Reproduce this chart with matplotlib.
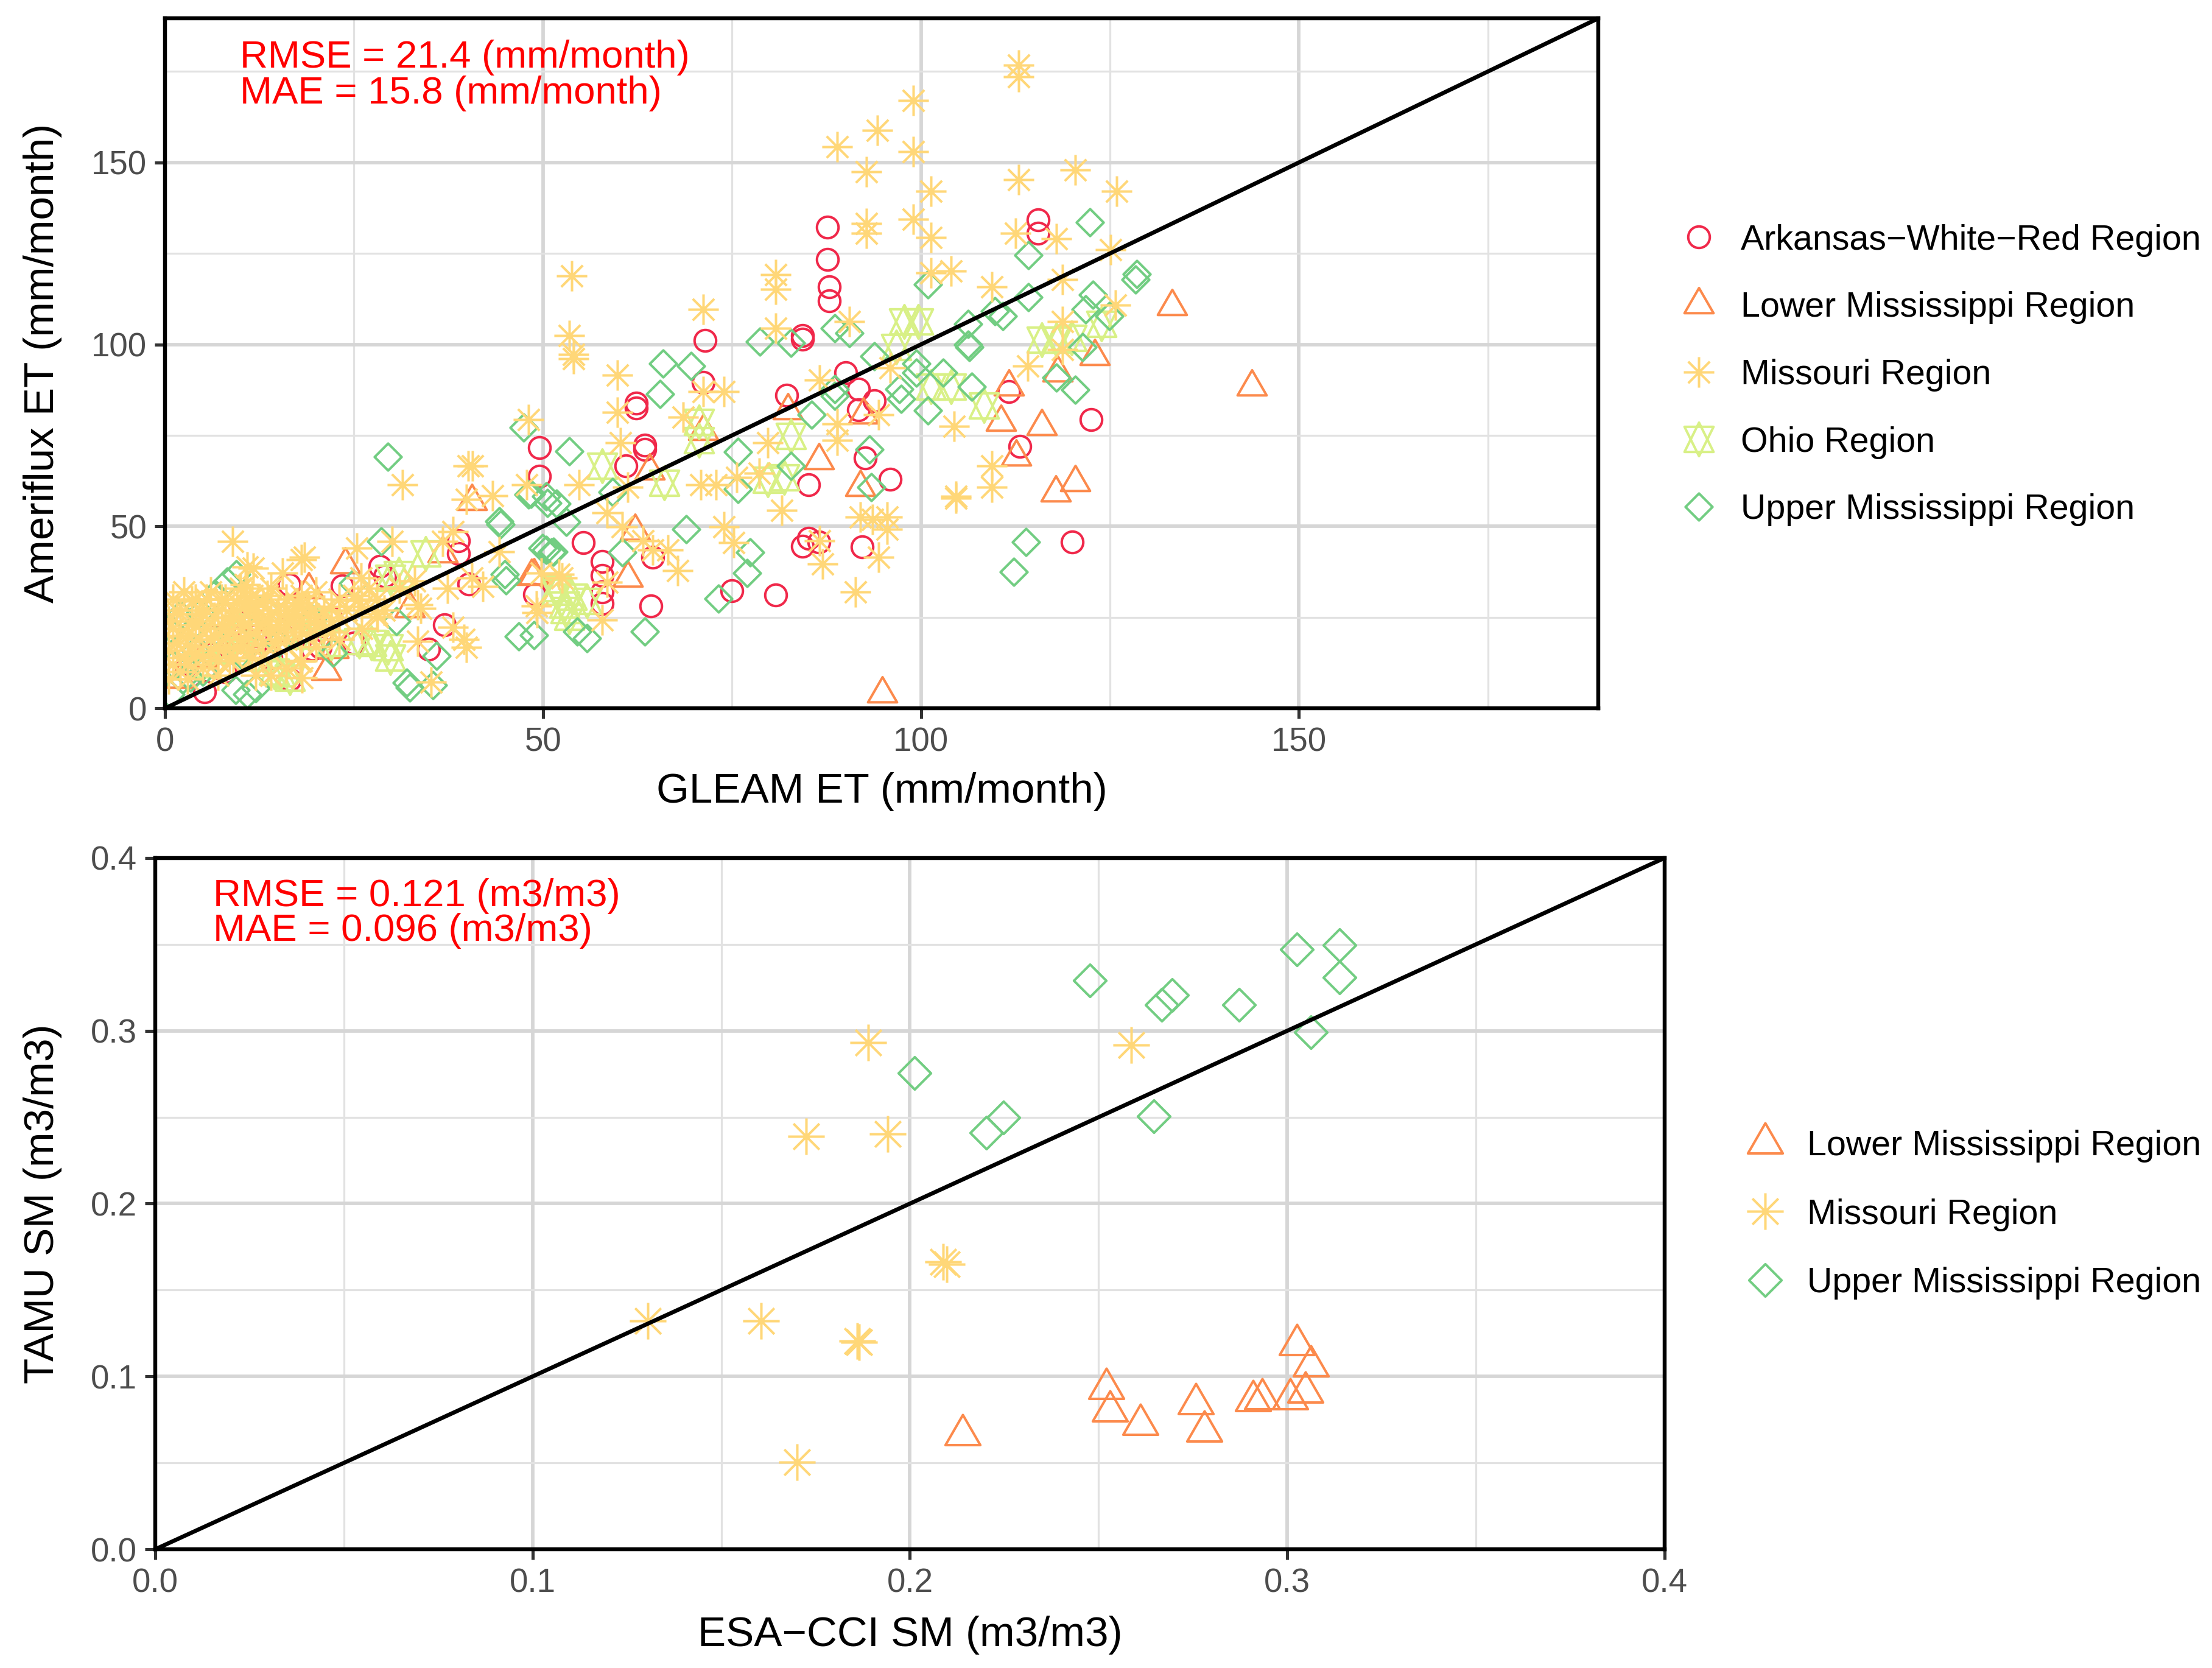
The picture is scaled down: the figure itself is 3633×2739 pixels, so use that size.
import matplotlib.pyplot as plt
from matplotlib.path import Path
from matplotlib.lines import Line2D
from matplotlib.ticker import MultipleLocator

plt.rcParams['font.family'] = ['Liberation Sans', 'DejaVu Sans']

# ---- top panel: GLEAM ET (x) vs Ameriflux ET (y), mm/month ----
ark_et = [
    (87.6, 132.3), (87.6, 123.3), (87.9, 115.9), (87.9, 112.0), (115.5, 134.2), (115.5, 130.6),
    (84.3, 102.4), (84.3, 101.4), (82.2, 86.0), (90.0, 92.2), (91.7, 87.7), (91.7, 82.0),
    (93.8, 84.5), (111.6, 87.1), (122.5, 79.4), (113.1, 72.0), (92.6, 68.8), (85.1, 61.5),
    (95.9, 63.0), (85.1, 46.7), (84.3, 44.6), (86.5, 45.7), (92.2, 44.4), (120.0, 45.7),
    (80.8, 31.1), (75.0, 32.3), (71.4, 101.1), (71.2, 89.6), (62.3, 83.9), (62.3, 82.6),
    (63.5, 72.3), (63.5, 71.1), (61.0, 66.6), (49.5, 71.7), (49.5, 63.8), (55.3, 45.5),
    (57.8, 40.3), (57.8, 36.5), (57.8, 32.0), (57.8, 28.8), (64.5, 41.6), (64.3, 28.2),
    (16.4, 34.0), (23.4, 33.7), (28.4, 39.1), (29.1, 36.3), (38.8, 46.1), (38.8, 42.5),
    (40.2, 34.1), (48.9, 31.3), (37.0, 22.9), (34.9, 16.2), (20.5, 16.8), (5.2, 4.5),
    (16.5, 7.9), (19.5, 16.3), (3, 12), (6, 15), (9, 18), (12, 20), (14, 14), (8, 10),
    (22, 25), (11, 24), (25, 18),
]
low_et = [
    (133.2, 110.5), (143.8, 88.3), (123.0, 96.7), (118.1, 92.2), (111.6, 88.3), (110.6, 78.7),
    (116.0, 77.5), (112.6, 69.1), (120.4, 62.1), (117.8, 59.2), (86.5, 68.1), (92.0, 60.8),
    (92.4, 80.7), (82.4, 81.9), (94.9, 4.1), (64.1, 65.3), (71.2, 76.2), (61.2, 35.9),
    (62.2, 48.7), (48.8, 36.5), (23.8, 39.5), (19.0, 32.6), (40.6, 57.0), (48.5, 36.3),
    (36.7, 42.5), (32.4, 27.4), (21.3, 10.3), (22.3, 16.2), (15.6, 21.0), (5, 14), (10, 20),
    (13, 18), (8, 25), (2, 8),
]
mo_et = [
    (112.9, 176.7), (112.9, 173.5), (99.0, 167.1), (94.2, 158.8), (88.9, 154.3), (99.0, 153.0),
    (92.8, 147.5), (112.9, 145.3), (120.4, 147.9), (125.9, 142.1), (101.3, 142.1), (92.8, 133.2),
    (92.8, 130.6), (99.0, 134.4), (101.3, 129.3), (112.5, 130.6), (117.9, 129.1), (125.1, 126.1),
    (80.8, 119.1), (80.8, 115.2), (101.3, 119.7), (104.0, 120.1), (109.4, 115.9), (118.7, 117.8),
    (80.8, 104.4), (90.5, 106.3), (125.7, 110.8), (118.7, 106.3), (118.7, 98.6), (95.9, 93.5),
    (86.6, 90.3), (114.1, 94.1), (88.9, 78.1), (88.9, 73.6), (79.7, 73.0), (94.4, 80.7),
    (104.4, 77.5), (109.4, 66.6), (109.4, 60.8), (104.6, 58.3), (104.6, 57.8), (81.6, 54.4),
    (92.0, 52.5), (95.5, 52.5), (93.6, 51.9), (95.5, 49.3), (86.6, 46.1), (87.0, 39.7),
    (94.4, 41.6), (91.3, 32.0),
    (53.8, 118.8), (71.2, 109.7), (53.5, 102.4), (54.0, 97.3), (54.0, 96.0), (59.8, 91.5),
    (48.1, 79.4), (59.8, 81.3), (71.2, 87.1), (73.9, 87.1), (68.5, 80.0), (60.2, 73.0),
    (40.1, 66.6), (40.7, 66.6), (31.4, 61.5), (47.8, 61.5), (54.8, 61.5), (61.2, 60.8),
    (70.9, 61.5), (72.9, 61.5), (75.6, 63.4), (78.6, 64.7), (58.5, 53.8), (60.5, 49.9),
    (73.9, 49.9), (75.2, 45.5), (63.2, 46.1), (64.5, 43.5), (66.5, 43.5), (67.8, 37.8),
    (49.8, 37.1), (52.5, 35.9), (58.5, 34.6), (57.8, 24.3), (49.1, 28.2),
    (8.9, 45.8), (3.5, 29.5), (10.9, 38.8), (11.7, 38.5), (15.5, 37.1), (18.0, 40.8),
    (18.4, 41.6), (25.4, 44.1), (30.0, 45.8), (36.7, 45.8), (38.1, 48.6), (39.9, 57.5),
    (43.3, 58.4), (44.2, 43.0), (40.6, 35.8), (37.4, 33.0), (33.4, 28.5), (38.1, 22.3),
    (39.5, 19.0), (39.9, 16.8), (33.4, 18.4), (35.2, 7.3), (25.9, 35.8), (25.5, 29.6),
    (28.1, 25.1), (16.9, 25.1), (18.1, 8.4), (17.9, 12.9), (11.2, 29.6), (10.6, 34.0),
    (17.6, 28.1), (49.2, 26.3), (52.1, 36.9), (42.0, 33.5), (33.8, 27.4),
    (0.5, 8), (0.5, 16), (0.5, 24), (1, 12), (1, 22), (1, 30), (1.5, 18), (1.5, 27), (2, 10),
    (2, 20), (2, 26), (2.5, 14), (2.5, 32), (3, 8), (3, 12), (3, 20), (3.5, 17), (3.5, 24),
    (4, 15), (4, 23), (4, 30), (4.5, 19), (4.5, 27), (5, 11), (5, 14), (5, 26), (5.5, 22),
    (5.5, 30), (6, 16), (6, 19), (6, 32), (6.5, 20), (6.5, 25), (7, 9), (7, 13), (7, 17),
    (7, 27), (7.5, 23), (7.5, 30), (8, 17), (8, 22), (8, 30), (8.5, 13), (8.5, 21), (9, 14),
    (9, 25), (9, 27), (9.5, 17), (9.5, 29), (10, 19), (10, 24), (10, 33), (10.5, 23),
    (10.5, 29), (11, 16), (11, 20), (11, 27), (11.5, 14), (11.5, 31), (12, 9), (12, 21),
    (12, 25), (12, 28), (12.5, 23), (13, 14), (13, 18), (13, 29), (13.5, 24), (13.5, 31),
    (14, 9), (14, 22), (14, 26), (14, 33), (14.5, 18), (15, 19), (15, 23), (15, 27), (16, 11),
    (16, 19), (16, 23), (16, 27), (16, 30), (17, 21), (17, 24), (17, 26), (17.5, 29), (18, 13),
    (18, 21), (18, 24), (18, 31), (19, 20), (19, 26), (19, 28), (20, 17), (20, 23), (20, 25),
    (20, 32), (21, 22), (21, 27), (22, 21), (22, 24), (22, 28), (23, 19), (23, 25), (23, 30),
    (24, 27), (25, 31), (26, 22), (26, 28), (27, 33), (28, 26), (28, 30), (29, 27), (31, 33),
    (33, 35),
]
oh_et = [
    (97.8, 106.3), (99.6, 106.3), (96.7, 99.2), (116.0, 101.2), (117.9, 101.2), (119.9, 101.8),
    (123.9, 105.6), (108.3, 83.2), (101.3, 88.3), (104.0, 88.3), (82.8, 74.9), (79.7, 62.7),
    (70.6, 78.7), (81.9, 63.4), (57.8, 66.6), (70.6, 73.6), (51.8, 32.0), (53.8, 30.7),
    (55.8, 29.4), (53.0, 26.9), (66.0, 62.0), (34.5, 42.5), (30.9, 36.9), (29.8, 35.8),
    (29.5, 16.8), (29.8, 14.0), (25.7, 18.5), (27.3, 18.0), (16.5, 8.4), (15.2, 9.6),
    (14.4, 10.1), (52.8, 28.5), (53.5, 25.1), (51.7, 33.0), (5, 12), (8, 16), (12, 14),
    (18, 20), (22, 18), (10, 22), (20, 24),
]
up_et = [
    (122.3, 133.5), (114.2, 124.5), (128.5, 119.3), (128.4, 117.8), (100.9, 116.5), (114.2, 112.9),
    (122.7, 113.7), (121.8, 109.7), (124.9, 107.8), (109.8, 109.1), (110.8, 107.8), (78.7, 100.8),
    (82.8, 100.5), (88.6, 104.4), (90.5, 103.1), (106.2, 105.6), (106.2, 99.9), (106.4, 99.2),
    (93.8, 96.7), (88.6, 87.7), (88.6, 85.8), (85.5, 80.7), (97.1, 87.7), (97.4, 85.1),
    (99.4, 94.8), (99.4, 92.2), (102.9, 92.2), (100.9, 81.9), (106.7, 88.3), (117.9, 90.9),
    (120.4, 87.5), (121.4, 99.2), (75.8, 70.4), (82.8, 66.6), (93.2, 71.1), (93.4, 60.8),
    (75.8, 60.2), (113.9, 45.7), (112.3, 37.5), (77.4, 42.9), (77.0, 37.1),
    (29.5, 69.1), (47.4, 77.1), (53.5, 70.7), (65.9, 94.7), (69.6, 94.1), (65.5, 86.4),
    (48.4, 58.9), (50.4, 58.3), (44.4, 50.6), (51.8, 56.3), (53.1, 51.2), (50.4, 43.5),
    (51.1, 42.9), (59.2, 59.5), (68.9, 49.3), (60.5, 42.9), (45.1, 35.2), (46.8, 19.8),
    (54.5, 21.1), (55.8, 19.2), (63.5, 21.1), (73.2, 30.1), (32.0, 7.0), (32.4, 5.8),
    (35.4, 6.4), (28.6, 45.8), (44.2, 51.4), (48.1, 58.7), (50.6, 56.4), (49.9, 44.1),
    (51.4, 43.0), (44.9, 36.9), (48.8, 20.1), (35.9, 14.5), (19.5, 24.7), (22.2, 15.2),
    (30.6, 24.0), (6.6, 31.5), (8.2, 34.8), (9.4, 36.9), (13.0, 27.5), (2.3, 7.9), (3.4, 8.4),
    (9.3, 5.1), (10.9, 3.9), (12.0, 5.6), (0.7, 3.9), (0.7, 21.9), (2.0, 25.8), (24.9, 34.3),
    (4.7, 26.3), (4, 16), (6, 20), (1, 12), (5, 10), (10, 15), (12, 22), (15, 18),
]

# ---- bottom panel: ESA-CCI SM (x) vs TAMU SM (y), m3/m3 ----
low_sm = [
    (0.3025, 0.1185), (0.3063, 0.106), (0.252, 0.0931), (0.253, 0.080), (0.261, 0.0724),
    (0.2757, 0.0843), (0.278, 0.0684), (0.291, 0.0861), (0.2933, 0.087), (0.3008, 0.087),
    (0.3048, 0.091), (0.214, 0.0663),
]
mo_sm = [
    (0.1889, 0.2931), (0.2587, 0.2916), (0.1725, 0.2388), (0.1941, 0.2403), (0.2088, 0.1664),
    (0.2097, 0.1649), (0.1306, 0.1322), (0.1606, 0.1322), (0.186, 0.1206), (0.1866, 0.120),
    (0.1701, 0.0504),
]
up_sm = [
    (0.2477, 0.3292), (0.3025, 0.3472), (0.3138, 0.3496), (0.3138, 0.3307), (0.2668, 0.3151),
    (0.2694, 0.3206), (0.2872, 0.3151), (0.3063, 0.2992), (0.2013, 0.2754), (0.2203, 0.2412),
    (0.2247, 0.2498), (0.2647, 0.2504),
]

regions = ['Arkansas\u2212White\u2212Red Region', 'Lower Mississippi Region',
           'Missouri Region', 'Ohio Region', 'Upper Mississippi Region']
colors = ['#F0284A', '#FC8A4C', '#FFD778', '#D8F086', '#72CD82']

# ggplot-like open shapes (units of the symbol radius)
M, L, C = Path.MOVETO, Path.LINETO, Path.CLOSEPOLY
tri = Path([(0, 1.555), (1.347, -0.778), (-1.347, -0.778), (0, 1.555)], [M, L, L, C])
dia = Path([(0, 1.253), (1.253, 0), (0, -1.253), (-1.253, 0), (0, 1.253)], [M, L, L, L, C])
ast = Path([(-1, -1), (1, 1), (-1, 1), (1, -1), (-1.414, 0), (1.414, 0), (0, -1.414), (0, 1.414)],
           [M, L, M, L, M, L, M, L])
hexa = Path([(0, 1.555), (1.347, -1.1665), (-1.347, -1.1665), (0, 1.555),
             (0, -1.555), (1.347, 1.1665), (-1.347, 1.1665), (0, -1.555)],
            [M, L, L, C, M, L, L, C])
shapes = [('o', 1.0), (tri, 1.555), (ast, 1.414), (hexa, 1.555), (dia, 1.253)]

R_TOP, R_BOT = 5.5, 6.6
MEW = 1.25

fig = plt.figure(figsize=(3633 / 232, 2739 / 232), dpi=232)
W, H = 1568.0, 1182.1
ax1 = fig.add_axes([117 / W, 1 - 502 / H, (1133 - 117) / W, (502 - 13) / H])
ax2 = fig.add_axes([110 / W, 1 - 1098 / H, (1180 - 110) / W, (1098 - 608) / H])


def style_axes(ax, lim, major, minor):
    ax.set_xlim(0, lim)
    ax.set_ylim(0, lim)
    ax.xaxis.set_major_locator(MultipleLocator(major))
    ax.yaxis.set_major_locator(MultipleLocator(major))
    ax.xaxis.set_minor_locator(MultipleLocator(minor))
    ax.yaxis.set_minor_locator(MultipleLocator(minor))
    ax.grid(which='major', color='#D6D6D6', linewidth=1.8)
    ax.grid(which='minor', color='#E2E2E2', linewidth=1.0)
    ax.set_axisbelow(True)
    ax.tick_params(which='major', length=5.3, width=1.6, color='#333333',
                   labelsize=17, labelcolor='#4D4D4D', pad=4)
    ax.tick_params(which='minor', length=0)
    for sp in ax.spines.values():
        sp.set_linewidth(2.0)
        sp.set_color('black')
        sp.set_zorder(5)


def draw_points(ax, data, idx, R):
    mk, half = shapes[idx]
    xs, ys = zip(*data)
    ax.plot(xs, ys, linestyle='none', marker=mk, ms=2 * half * R, mfc='none',
            mec=colors[idx], mew=MEW, zorder=2)


# top panel
style_axes(ax1, 189.6, 50, 25)
for data, idx in [(ark_et, 0), (low_et, 1), (oh_et, 3), (up_et, 4), (mo_et, 2)]:
    draw_points(ax1, data, idx, R_TOP)
ax1.axline((0, 0), slope=1, color='black', linewidth=2.1, zorder=3)
ax1.set_xlabel('GLEAM ET (mm/month)', fontsize=21.5, va='center')
ax1.set_ylabel('Ameriflux ET (mm/month)', fontsize=21.5, va='center')
ax1.xaxis.set_label_coords(0.5, (502 - 561) / 489)
ax1.yaxis.set_label_coords((30 - 117) / 1016, 0.5)
ax1.text(9.9, 176.0, 'RMSE = 21.4 (mm/month)', color='red', fontsize=19.7, va='baseline')
ax1.text(9.9, 166.2, 'MAE = 15.8 (mm/month)', color='red', fontsize=19.7, va='baseline')

# bottom panel
style_axes(ax2, 0.4, 0.1, 0.05)
ax2.xaxis.set_major_formatter(lambda v, p: f'{v:.1f}')
ax2.yaxis.set_major_formatter(lambda v, p: f'{v:.1f}')
for data, idx in [(low_sm, 1), (mo_sm, 2), (up_sm, 4)]:
    draw_points(ax2, data, idx, R_BOT)
ax2.axline((0, 0), slope=1, color='black', linewidth=2.1, zorder=3)
ax2.set_xlabel('ESA\u2212CCI SM (m3/m3)', fontsize=21.5, va='center')
ax2.set_ylabel('TAMU SM (m3/m3)', fontsize=21.5, va='center')
ax2.xaxis.set_label_coords(0.5, (1098 - 1159) / 490)
ax2.yaxis.set_label_coords((30 - 110) / 1070, 0.5)
ax2.text(0.0153, 0.3721, 'RMSE = 0.121 (m3/m3)', color='red', fontsize=19.7, va='baseline')
ax2.text(0.0153, 0.3520, 'MAE = 0.096 (m3/m3)', color='red', fontsize=19.7, va='baseline')

# legends (drawn by hand to mimic ggplot's layout)
LEG_FS = 17.8
cap_half = 0.358 * LEG_FS * 1.3906  # half cap height in reduced px


def legend(entries, mx, tx, y0, dy, R):
    for i, idx in enumerate(entries):
        y = y0 + i * dy
        mk, half = shapes[idx]
        fig.add_artist(Line2D([mx / W], [1 - y / H], transform=fig.transFigure,
                              linestyle='none', marker=mk, ms=2 * half * R, mfc='none',
                              mec=colors[idx], mew=MEW))
        fig.text(tx / W, 1 - (y + cap_half) / H, regions[idx], fontsize=LEG_FS,
                 va='baseline', ha='left')


legend([0, 1, 2, 3, 4], 1204, 1234, 168, 47.75, R_TOP)
legend([1, 2, 4], 1251, 1281, 810, 48.5, R_BOT)

fig.savefig('out.png', dpi=232)
